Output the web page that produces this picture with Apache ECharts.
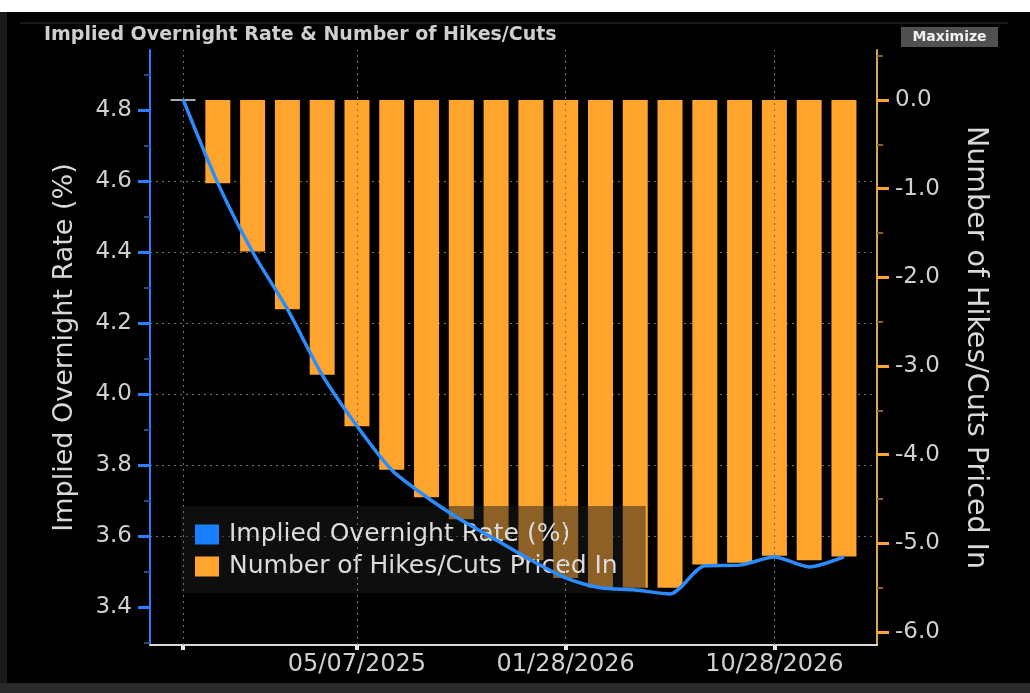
<!DOCTYPE html>
<html><head><meta charset="utf-8">
<script src="https://cdn.jsdelivr.net/npm/echarts@6/dist/echarts.min.js"></script>
<style>html,body{margin:0;padding:0;background:#000}#c{width:1030px;height:693px}</style>
</head><body><div id="c"></div>
<script>
// Meeting dates (category per point)
const dates = ['09/19/2024','11/07/2024','12/18/2024','01/29/2025','03/19/2025','05/07/2025','06/18/2025','07/30/2025','09/17/2025','10/29/2025','12/10/2025','01/28/2026','03/18/2026','04/29/2026','06/17/2026','07/29/2026','09/16/2026','10/28/2026','12/09/2026','01/27/2027'];
// Implied overnight rate (%)
const rates = [4.83, 4.594, 4.40, 4.239, 4.054, 3.910, 3.786, 3.710, 3.645, 3.589, 3.532, 3.482, 3.454, 3.448, 3.437, 3.516, 3.518, 3.541, 3.513, 3.541];
// Number of hikes/cuts priced in
const cuts = [0, -0.94, -1.71, -2.36, -3.10, -3.68, -4.17, -4.48, -4.73, -4.96, -5.19, -5.39, -5.50, -5.50, -5.50, -5.24, -5.22, -5.14, -5.19, -5.15];
// Axis ticks / labels
const xLabelIdx = [5, 11, 17];
const xTickIdx = [0, 5, 11, 17];
const leftTicks = [3.4, 3.6, 3.8, 4.0, 4.2, 4.4, 4.6, 4.8];
const rightTicks = [-6, -5, -4, -3, -2, -1, 0];

const FONT = 'DejaVu Sans';
const chart = echarts.init(document.getElementById('c'));
const option = {
  backgroundColor: '#000',
  animation: false,
  textStyle: {fontFamily: FONT},
  title: {
    text: 'Implied Overnight Rate & Number of Hikes/Cuts',
    left: 44, top: 26, padding: 0,
    textStyle: {color: '#cfcfcf', fontSize: 19, fontWeight: 'bold', fontFamily: FONT}
  },
  graphic: [
    {type: 'rect', shape: {x: 0, y: 0, width: 1030, height: 12}, style: {fill: '#ffffff'}, silent: true},
    {type: 'rect', shape: {x: 0, y: 12, width: 7, height: 671}, style: {fill: '#1a1a1a'}, silent: true},
    {type: 'rect', shape: {x: 0, y: 683, width: 1030, height: 10}, style: {fill: '#2a2a2a'}, silent: true},
    {type: 'line', shape: {x1: 20, y1: 23, x2: 1008, y2: 23}, style: {stroke: '#333', lineWidth: 1}, silent: true},
    {type: 'rect', shape: {x: 901, y: 27, width: 97, height: 20}, style: {fill: '#505050'}, silent: true},
    {type: 'text', x: 949.5, y: 37, style: {text: 'Maximize', fill: '#f0f0f0', font: 'bold 14px "DejaVu Sans"', align: 'center', verticalAlign: 'middle'}, silent: true}
  ],
  grid: {left: 150, right: 153, top: 50, bottom: 48},
  legend: {
    orient: 'vertical', left: 181, top: 506,
    backgroundColor: 'rgba(28,28,28,0.5)',
    padding: [16, 28, 14, 14], itemGap: 7, itemWidth: 24, itemHeight: 20,
    icon: 'rect', selectedMode: false,
    textStyle: {color: '#dcdcdc', fontSize: 25, fontFamily: FONT, padding: [0, 0, 0, 5]},
    data: ['Implied Overnight Rate (%)', 'Number of Hikes/Cuts Priced In']
  },
  xAxis: {
    type: 'value', min: -0.95, max: 19.95,
    axisLine: {show: true, onZero: false, lineStyle: {color: '#d8d8d8', width: 2}},
    axisTick: {show: true, customValues: xTickIdx, length: 5, lineStyle: {color: '#e8e8e8', width: 4}},
    axisLabel: {customValues: xLabelIdx, formatter: v => dates[v], color: '#d0d0d0', fontSize: 24, margin: 8, fontFamily: FONT},
    splitLine: {show: false}
  },
  yAxis: [
    {
      type: 'value', position: 'left', min: 3.293, max: 4.969, splitNumber: 8,
      name: 'Implied Overnight Rate (%)', nameLocation: 'middle', nameGap: 72,
      nameTextStyle: {color: '#d8d8d8', fontSize: 27, fontFamily: FONT},
      axisLine: {show: true, onZero: false, lineStyle: {color: '#2a7fff', width: 2}},
      axisTick: {show: true, customValues: leftTicks, length: 12, lineStyle: {color: '#2a7fff', width: 3}},
      minorTick: {show: true, splitNumber: 2, length: 6, lineStyle: {color: '#2a4a80', width: 2}},
      axisLabel: {customValues: leftTicks, color: '#d0d0d0', fontSize: 23, margin: 18, fontFamily: FONT, formatter: v => v.toFixed(1)},
      splitLine: {show: true, showMinLine: false, showMaxLine: false, lineStyle: {color: '#707070', type: [2, 4], width: 1}}
    },
    {
      type: 'value', position: 'right', min: -6.147, max: 0.564, splitNumber: 7,
      name: 'Number of Hikes/Cuts Priced In', nameLocation: 'middle', nameRotate: -90, nameGap: 84,
      nameTextStyle: {color: '#d8d8d8', fontSize: 28.5, fontFamily: FONT},
      axisLine: {show: true, onZero: false, lineStyle: {color: '#d9a45a', width: 2}},
      axisTick: {show: true, customValues: rightTicks, length: 12, lineStyle: {color: '#ffa52e', width: 3}},
      minorTick: {show: true, splitNumber: 2, length: 6, lineStyle: {color: '#8a6030', width: 2}},
      axisLabel: {customValues: rightTicks, color: '#d0d0d0', fontSize: 23, margin: 18, fontFamily: FONT, formatter: v => v.toFixed(1)},
      splitLine: {show: false}
    }
  ],
  series: [
    {
      type: 'line', data: [], yAxisIndex: 0, z: 1, silent: true,
      markLine: {
        silent: true, symbol: ['none', 'none'], label: {show: false}, animation: false,
        lineStyle: {color: '#707070', type: [2, 4], width: 1},
        data: xTickIdx.map(i => ({xAxis: i}))
      }
    },
    {
      name: 'Number of Hikes/Cuts Priced In', type: 'bar', yAxisIndex: 1, barWidth: 25, z: 2,
      itemStyle: {color: '#ffa52e'},
      data: cuts.map((v, i) => i === 0 ? {value: [i, v], itemStyle: {color: '#aaaaaa', borderColor: '#aaaaaa', borderWidth: 2}} : [i, v])
    },
    {
      name: 'Implied Overnight Rate (%)', type: 'line', yAxisIndex: 0, z: 5,
      smooth: 0.25, showSymbol: false,
      lineStyle: {color: '#2b8cff', width: 3.5},
      itemStyle: {color: '#1a7fff'},
      data: rates.map((v, i) => [i, v])
    }
  ]
};
chart.setOption(option);
</script>
</body></html>
